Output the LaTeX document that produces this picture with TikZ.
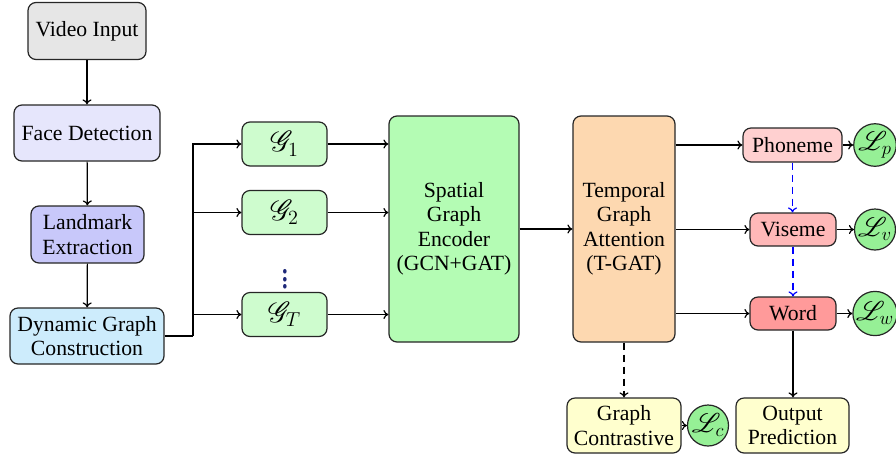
\documentclass[tikz,border=0pt]{standalone}
\usepackage{fontspec}
\setmainfont{Liberation Serif}
\usepackage{mathrsfs}
\usepackage{graphicx}
\usetikzlibrary{arrows.meta,calc}
\definecolor{cVid}{RGB}{230,230,230}
\definecolor{cFace}{RGB}{230,230,252}
\definecolor{cLand}{RGB}{200,200,250}
\definecolor{cDgc}{RGB}{205,236,252}
\definecolor{cG}{RGB}{206,252,206}
\definecolor{cSp}{RGB}{180,252,180}
\definecolor{cTmp}{RGB}{253,216,176}
\definecolor{cPh}{RGB}{255,208,208}
\definecolor{cVi}{RGB}{255,184,184}
\definecolor{cWo}{RGB}{255,154,154}
\definecolor{cLoss}{RGB}{150,240,150}
\definecolor{cYel}{RGB}{255,255,206}
\definecolor{cDots}{RGB}{30,40,120}
\newcommand{\scrlab}[1]{\scalebox{1.4}{$#1$}}
\newcommand{\losslab}[1]{\scalebox{1.3}{$#1$}}
\tikzset{
  box/.style={draw=black!85, line width=1.2pt, rounded corners=8pt, align=center,
    inner sep=0pt, font=\fontsize{21.7}{24.5}\selectfont},
  gbox/.style={box, fill=cG, minimum width=85pt, minimum height=44pt},
  loss/.style={draw=black!85, line width=1.2pt, circle, fill=cLoss, inner sep=0pt,
    minimum size=41pt, font=\fontsize{21.7}{24.5}\selectfont},
  arr/.style={-{To[length=5pt,width=9pt]}, line width=1.2pt},
  darr/.style={arr, dash pattern=on 7pt off 5pt},
  barr/.style={arr, draw=blue, dash pattern=on 7pt off 5pt},
}
\begin{document}
\begin{tikzpicture}[x=1pt,y=-1pt]
\useasboundingbox (0,0) rectangle (896,459);
% left column
\node[box, fill=cVid, minimum width=118pt, minimum height=57pt] (vid) at (87,31) {Video Input};
\node[box, fill=cFace, minimum width=146pt, minimum height=56pt] (face) at (87,133) {Face Detection};
\node[box, fill=cLand, minimum width=113pt, minimum height=57pt] (land) at (87.5,234.5) {Landmark\\Extraction};
\node[box, fill=cDgc, minimum width=154pt, minimum height=56pt] (dgc) at (87,336) {Dynamic Graph\\Construction};
% graph snapshots
\node[gbox] (g1) at (284.5,144) {\scrlab{\mathscr{G}_1}};
\node[gbox] (g2) at (284.5,212.5) {\scrlab{\mathscr{G}_2}};
\node[text=cDots, font=\fontsize{21.7}{24.5}\selectfont, inner sep=0pt] (dots) at (285,274) {\scalebox{1.4}[1.8]{$\vdots$}};
\node[gbox] (gT) at (284.5,314.5) {\scrlab{\mathscr{G}_T}};
% encoders
\node[box, fill=cSp, minimum width=130pt, minimum height=226pt] (sp) at (454,229) {Spatial\\Graph\\Encoder\\(GCN+GAT)};
\node[box, fill=cTmp, minimum width=102pt, minimum height=226pt] (tmp) at (624,229) {Temporal\\Graph\\Attention\\(T-GAT)};
% heads
\node[box, fill=cPh, minimum width=99pt, minimum height=34pt] (ph) at (792.5,145) {Phoneme};
\node[box, fill=cVi, minimum width=86pt, minimum height=33pt] (vi) at (793,229.5) {Viseme};
\node[box, fill=cWo, minimum width=86pt, minimum height=33pt] (wo) at (793,313.5) {Word};
\node[loss] (lp) at (875,145) {\losslab{\mathscr{L}_p}};
\node[loss] (lv) at (875,229.5) {\losslab{\mathscr{L}_v}};
\node[loss] (lw) at (875,313.5) {\losslab{\mathscr{L}_w}};
% bottom
\node[box, fill=cYel, minimum width=114pt, minimum height=55pt] (gc) at (624,425.5) {Graph\\Contrastive};
\node[loss] (lc) at (708,425.5) {\losslab{\mathscr{L}_c}};
\node[box, fill=cYel, minimum width=113pt, minimum height=55pt] (out) at (792.5,425.5) {Output\\Prediction};
% connectors
\draw[arr] (vid) -- (face);
\draw[arr] (face) -- (land);
\draw[arr] (land) -- (dgc);
\coordinate (bus) at (193,336);
\draw[line width=1.2pt] (dgc.east) -- (bus);
\draw[arr] (bus) |- (g1.west);
\draw[arr] (bus |- g2.west) -- (g2.west);
\draw[arr] (bus |- gT.west) -- (gT.west);
\draw[arr] (g1.east) -- (g1.east -| sp.west);
\draw[arr] (g2.east) -- (g2.east -| sp.west);
\draw[arr] (gT.east) -- (gT.east -| sp.west);
\draw[arr] (sp.east) -- (tmp.west);
\draw[arr] (ph.west -| tmp.east) -- (ph.west);
\draw[arr] (vi.west -| tmp.east) -- (vi.west);
\draw[arr] (wo.west -| tmp.east) -- (wo.west);
\draw[arr] (ph) -- (lp);
\draw[arr] (vi) -- (lv);
\draw[arr] (wo) -- (lw);
\draw[barr] (ph.south) -- (ph.south |- vi.north);
\draw[barr] (vi.south) -- (vi.south |- wo.north);
\draw[darr] (tmp.south) -- (gc.north);
\draw[arr] (wo.south) -- (wo.south |- out.north);
\draw[arr] (gc.east) -- (lc.west);
\end{tikzpicture}
\end{document}
